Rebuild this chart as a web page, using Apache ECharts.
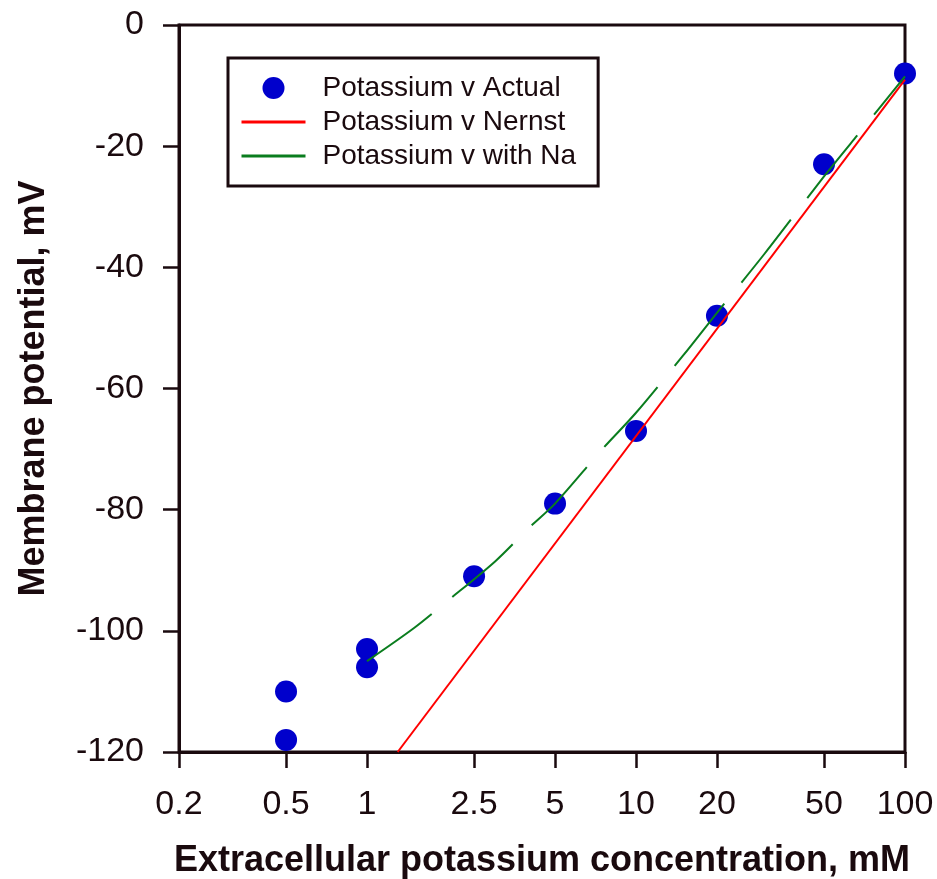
<!DOCTYPE html>
<html>
<head>
<meta charset="utf-8">
<script src="https://cdn.jsdelivr.net/npm/echarts@6/dist/echarts.min.js"></script>
<style>
  html, body { margin: 0; padding: 0; background: #fff; }
  #chart { width: 937px; height: 879px; }
</style>
</head>
<body>
<div id="chart"></div>
<script>
// measured points
const actualConc = [0.5, 0.5, 1, 1, 2.5, 5, 10, 20, 50, 100]
const actualMv = [-110, -118, -103, -106, -91, -79, -67, -48, -23, -8]

// Nernst prediction (straight line in log space, clipped at -120)
const nernstConc = [1.3, 100]
const nernstMv = [-120, -9]

// prediction including Na permeability
const withNaConc = [1, 1.5, 2, 3, 4, 5, 7.5, 10, 15, 20, 30, 50, 70, 100]
const withNaMv = [-105, -99.5, -95, -88.5, -83, -79, -70, -64, -54.5, -47.5, -37.8, -25, -17, -8.5]

const xTickValues = [0.2, 0.5, 1, 2.5, 5, 10, 20, 50, 100]
const xTickLabels = ['0.2', '0.5', '1', '2.5', '5', '10', '20', '50', '100']

const ink = '#1a0a0e'
const lg = (v) => Math.log10(v)
const pairs = (xs, ys) => xs.map((x, i) => [lg(x), ys[i]])

const chart = echarts.init(document.getElementById('chart'))
chart.setOption({
    backgroundColor: '#fff',
    animation: false,
    grid: {
        left: 179,
        right: 32,
        top: 25,
        bottom: 127,
        outerBoundsMode: 'none',
        show: true,
        borderColor: ink,
        borderWidth: 3,
    },
    legend: {
        orient: 'vertical',
        left: 228,
        top: 58,
        padding: [16, 22, 16, 12],
        borderColor: ink,
        borderWidth: 3,
        itemWidth: 64,
        itemHeight: 22,
        itemGap: 6,
        textStyle: {
            fontFamily: 'Liberation Sans',
            fontSize: 28,
            color: ink,
            padding: [0, 0, 0, 12],
        },
        data: [
            { name: 'Potassium v Actual', icon: 'circle' },
            { name: 'Potassium v Nernst', itemStyle: { opacity: 0 }, lineStyle: { width: 3, type: 'solid' } },
            { name: 'Potassium v with Na', itemStyle: { opacity: 0 }, lineStyle: { width: 3, type: 'solid' } },
        ],
    },
    xAxis: {
        type: 'value',
        min: lg(0.2),
        max: 2,
        name: 'Extracellular potassium concentration, mM',
        nameLocation: 'middle',
        nameGap: 91,
        nameTextStyle: {
            fontFamily: 'Liberation Sans',
            fontWeight: 'bold',
            fontSize: 36,
            color: ink,
        },
        splitLine: { show: false },
        axisLine: { onZero: false, lineStyle: { color: ink, width: 3 } },
        axisTick: {
            customValues: xTickValues.map(lg),
            length: 16,
            lineStyle: { color: ink, width: 2.5 },
        },
        axisLabel: {
            customValues: xTickValues.map(lg),
            margin: 36,
            fontFamily: 'Liberation Sans',
            fontSize: 34,
            color: ink,
            formatter: (v) => {
                const i = xTickValues.findIndex((t) => Math.abs(lg(t) - v) < 1e-6)
                return i >= 0 ? xTickLabels[i] : ''
            },
        },
    },
    yAxis: {
        type: 'value',
        min: -120,
        max: 0,
        interval: 20,
        name: 'Membrane potential, mV',
        nameLocation: 'middle',
        nameGap: 127,
        nameTextStyle: {
            fontFamily: 'Liberation Sans',
            fontWeight: 'bold',
            fontSize: 36,
            color: ink,
        },
        splitLine: { show: false },
        axisLine: { show: true, onZero: false, lineStyle: { color: ink, width: 3 } },
        axisTick: {
            show: true,
            length: 16,
            lineStyle: { color: ink, width: 2.5 },
        },
        axisLabel: {
            margin: 35,
            fontFamily: 'Liberation Sans',
            fontSize: 34,
            color: ink,
        },
    },
    series: [
        {
            name: 'Potassium v Nernst',
            type: 'line',
            data: pairs(nernstConc, nernstMv),
            showSymbol: false,
            symbol: 'none',
            itemStyle: { color: '#ff0000' },
            lineStyle: { color: '#ff0000', width: 2 },
            z: 2,
        },
        {
            name: 'Potassium v with Na',
            type: 'line',
            data: pairs(withNaConc, withNaMv),
            showSymbol: false,
            symbol: 'none',
            smooth: 0.3,
            itemStyle: { color: '#0a7d1e' },
            lineStyle: { color: '#0a7d1e', width: 2, type: [80, 27] },
            z: 3,
        },
        {
            name: 'Potassium v Actual',
            type: 'scatter',
            data: pairs(actualConc, actualMv),
            symbolSize: 22,
            itemStyle: { color: '#0000cc', opacity: 1 },
            z: 1,
        },
    ],
})
</script>
</body>
</html>
